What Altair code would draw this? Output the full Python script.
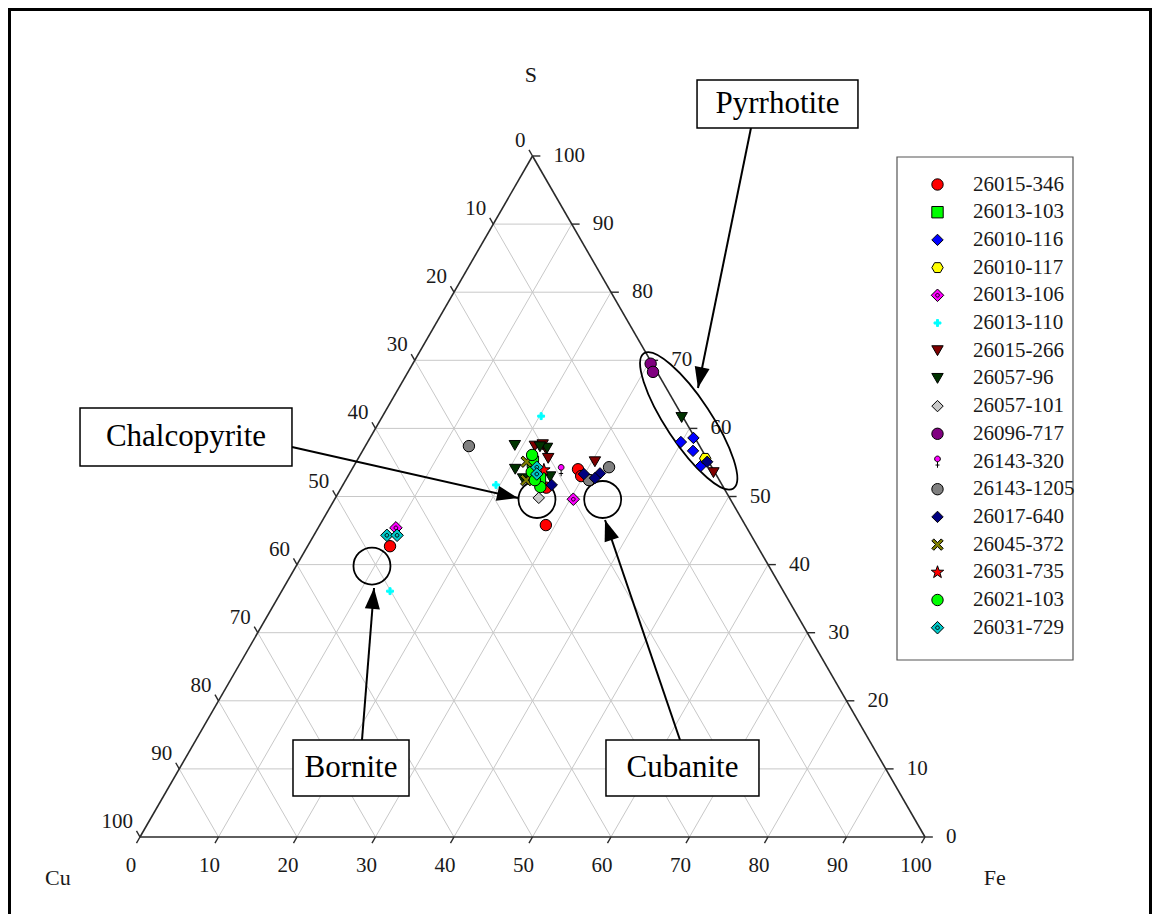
import math
import altair as alt
import pandas as pd

SERIF = "Liberation Serif"

# ---------------- axis ticks ----------------
TICKS = [0, 10, 20, 30, 40, 50, 60, 70, 80, 90, 100]

# ---------------- samples (legend order) ----------------
SAMPLES = ["26015-346", "26013-103", "26010-116", "26010-117", "26013-106", "26013-110",
           "26015-266", "26057-96", "26057-101", "26096-717", "26143-320", "26143-1205",
           "26017-640", "26045-372", "26031-735", "26021-103", "26031-729"]

# compositions: (Cu %, Fe %, S %)
P_26015_346 = [(17.2, 28.8, 54.0), (17.3, 29.7, 53.0), (16.5, 31.1, 52.4), (25.4, 28.8, 45.8),
               (46.8, 10.5, 42.7), (22.6, 26.1, 51.3)]
P_26013_103 = [(22.4, 22.5, 55.1), (22.7, 24.6, 52.7)]
P_26010_116 = [(2.1, 39.9, 58.0), (0.2, 41.2, 58.6), (1.2, 42.1, 56.7), (1.3, 44.2, 54.5)]
P_26010_117 = [(0.2, 44.2, 55.6), (23.6, 23.4, 53.0)]
P_26013_106 = [(20.0, 30.4, 49.6), (44.7, 9.9, 45.4)]
P_26013_110 = [(18.0, 20.2, 61.8), (28.8, 19.5, 51.7), (50.1, 13.8, 36.1)]
P_26015_266 = [(0.2, 46.3, 53.5), (14.5, 30.4, 55.1), (21.0, 21.6, 57.4), (19.8, 23.2, 57.0),
               (19.9, 22.5, 57.6), (20.2, 24.2, 55.6)]
P_26057_96 = [(0.2, 38.2, 61.6), (25.2, 20.8, 54.0), (24.9, 22.5, 52.6), (19.6, 23.3, 57.1),
              (21.3, 25.8, 52.9), (20.4, 22.3, 57.3), (23.5, 19.0, 57.5)]
P_26057_101 = [(24.3, 25.9, 49.8)]
P_26096_717 = [(0.2, 30.3, 69.5), (0.5, 31.2, 68.3)]
P_26143_320 = [(19.4, 26.7, 53.9)]
P_26143_1205 = [(29.4, 13.2, 57.4), (13.1, 32.6, 54.3), (16.6, 31.0, 52.4)]
P_26017_640 = [(0.2, 44.7, 55.1), (16.8, 29.9, 53.3), (14.7, 31.9, 53.4), (15.7, 31.6, 52.7),
               (21.7, 26.6, 51.7)]
P_26045_372 = [(23.2, 21.7, 55.1), (24.6, 23.0, 52.4)]
P_26031_735 = [(21.6, 24.5, 53.9)]
P_26021_103 = [(22.0, 21.9, 56.1), (23.3, 25.3, 51.4), (23.3, 23.1, 53.6), (23.5, 24.1, 52.4)]
P_26031_729 = [(22.3, 23.4, 54.3), (22.8, 23.9, 53.3), (46.4, 9.3, 44.3), (45.1, 10.6, 44.3)]

SAMPLE_POINTS = [P_26015_346, P_26013_103, P_26010_116, P_26010_117, P_26013_106, P_26013_110,
                 P_26015_266, P_26057_96, P_26057_101, P_26096_717, P_26143_320, P_26143_1205,
                 P_26017_640, P_26045_372, P_26031_735, P_26021_103, P_26031_729]

FILLS = ["#ff0000", "#00ff00", "#0000ff", "#ffff00", "#ff00ff", "#00ffff",
         "#800000", "#003300", "#c8c8c8", "#800080", "#ff00ff", "#808080",
         "#000080", "#808000", "#ff0000", "#00ff00", "#00c8c8"]
STROKES = ["#000000"] * 5 + ["#00ffff"] + ["#000000"] * 11

HEX = "M -1 0 L -0.5 -0.866 L 0.5 -0.866 L 1 0 L 0.5 0.866 L -0.5 0.866 Z"
RING_DIAMOND = ("M -1.1 0 L 0 -1.1 L 1.1 0 L 0 1.1 Z "
                "M 0.32 0 A 0.32 0.32 0 1 1 -0.32 0 A 0.32 0.32 0 1 1 0.32 0 Z")
PLUS = ("M -0.18 -0.6 L 0.18 -0.6 L 0.18 -0.18 L 0.6 -0.18 L 0.6 0.18 L 0.18 0.18 "
        "L 0.18 0.6 L -0.18 0.6 L -0.18 0.18 L -0.6 0.18 L -0.6 -0.18 L -0.18 -0.18 Z")
VENUS = ("M 0.5 -0.45 A 0.5 0.5 0 1 1 -0.5 -0.45 A 0.5 0.5 0 1 1 0.5 -0.45 Z "
         "M 0 0.05 L 0 1.1 M -0.35 0.62 L 0.35 0.62")
XSHAPE = ("M -1 -0.65 L -0.65 -1 L 0 -0.35 L 0.65 -1 L 1 -0.65 L 0.35 0 L 1 0.65 "
          "L 0.65 1 L 0 0.35 L -0.65 1 L -1 0.65 L -0.35 0 Z")
STAR = ("M 0 -1.15 L 0.27 -0.37 L 1.09 -0.36 L 0.44 0.14 L 0.68 0.93 L 0 0.46 "
        "L -0.68 0.93 L -0.44 0.14 L -1.09 -0.36 L -0.27 -0.37 Z")
SHAPES = ["circle", "square", "diamond", HEX, RING_DIAMOND, PLUS,
          "triangle-down", "triangle-down", "diamond", "circle", VENUS, "circle",
          "diamond", XSHAPE, STAR, "circle", RING_DIAMOND]

# ---------------- annotations (plot coordinates: X along Cu->Fe, Y = S %) ----------------
BOX_TEXT = ["Pyrrhotite", "Chalcopyrite", "Bornite", "Cubanite"]
BOX_X1 = [70.96, -7.64, 19.49, 59.36]
BOX_X2 = [91.46, 19.36, 34.27, 78.85]
BOX_Y1 = [111.16, 63.0, 14.24, 14.24]
BOX_Y2 = [104.11, 54.48, 6.02, 6.02]
ARROW_X1 = [77.83, 19.36, 28.28, 68.79]
ARROW_Y1 = [104.11, 57.27, 14.24, 14.24]
ARROW_X2 = [71.08, 48.15, 29.81, 59.24]
ARROW_Y2 = [65.93, 49.78, 36.56, 46.55]
CIRCLE_X = [50.57, 58.94, 29.55]
CIRCLE_Y = [49.56, 49.56, 39.79]
ELLIPSE_X = [69.9]
ELLIPSE_Y = [61.1]

TITLE_TEXT = ["S", "Cu", "Fe"]
TITLE_X = [49.8, -10.45, 108.9]
TITLE_Y = [111.9, -6.02, -6.02]

# ---------------- layout / scales ----------------
W, H = 1144, 906
XD = [-16.815, 128.917]
YD = [-11.307, 121.733]
KX = W / (XD[1] - XD[0])
KY = H / (YD[1] - YD[0])
xs = alt.Scale(domain=XD, nice=False, zero=False)
ys = alt.Scale(domain=YD, nice=False, zero=False)


def XE(f="X"):
    return alt.X(f + ":Q", scale=xs, axis=None)


def YE(f="Y"):
    return alt.Y(f + ":Q", scale=ys, axis=None)


# ---------------- data frames ----------------
rows = []
for name, pts in zip(SAMPLES, SAMPLE_POINTS):
    for cu, fe, s in pts:
        rows.append({"sample": name, "Cu": cu, "Fe": fe, "S": s, "X": fe + s / 2.0, "Y": s})
df_pts = pd.DataFrame(rows)

grid = []
for t in TICKS[1:-1]:
    grid.append({"X": t / 2.0, "Y": t, "X2": 100 - t / 2.0, "Y2": t})
    grid.append({"X": t, "Y": 0, "X2": t + (100 - t) / 2.0, "Y2": 100 - t})
    grid.append({"X": 100 - t, "Y": 0, "X2": (100 - t) / 2.0, "Y2": 100 - t})
df_grid = pd.DataFrame(grid)

df_edges = pd.DataFrame([
    {"X": 0, "Y": 0, "X2": 100, "Y2": 0},
    {"X": 0, "Y": 0, "X2": 50, "Y2": 100},
    {"X": 100, "Y": 0, "X2": 50, "Y2": 100},
])

tk = []
for t in TICKS:
    tk.append({"X": t, "Y": 0, "X2": t - 0.45, "Y2": -0.9})
    tk.append({"X": 100 - t / 2.0, "Y": t, "X2": 100 - t / 2.0 + 1.0, "Y2": t})
    tk.append({"X": (100 - t) / 2.0, "Y": 100 - t, "X2": (100 - t) / 2.0 - 0.45, "Y2": 100 - t + 0.9})
df_ticks = pd.DataFrame(tk)

df_lab_bottom = pd.DataFrame({"X": TICKS, "Y": [0] * len(TICKS), "t": [str(t) for t in TICKS]})
df_lab_left = pd.DataFrame({"X": [(100 - t) / 2.0 for t in TICKS], "Y": [100 - t for t in TICKS],
                            "t": [str(t) for t in TICKS]})
df_lab_right = pd.DataFrame({"X": [100 - t / 2.0 for t in TICKS], "Y": TICKS,
                             "t": [str(t) for t in TICKS]})
df_titles = pd.DataFrame({"X": TITLE_X, "Y": TITLE_Y, "t": TITLE_TEXT})

df_boxes = pd.DataFrame({"X": BOX_X1, "X2": BOX_X2, "Y": BOX_Y1, "Y2": BOX_Y2, "t": BOX_TEXT,
                         "XC": [(a + b) / 2 for a, b in zip(BOX_X1, BOX_X2)],
                         "YC": [(a + b) / 2 for a, b in zip(BOX_Y1, BOX_Y2)]})
angles = []
for x1, y1, x2, y2 in zip(ARROW_X1, ARROW_Y1, ARROW_X2, ARROW_Y2):
    dx = (x2 - x1) * KX
    dy = -(y2 - y1) * KY
    angles.append(math.degrees(math.atan2(dx, -dy)) % 360)
df_arrows = pd.DataFrame({"X": ARROW_X1, "Y": ARROW_Y1, "X2": ARROW_X2, "Y2": ARROW_Y2, "ang": angles})
df_circles = pd.DataFrame({"X": CIRCLE_X, "Y": CIRCLE_Y})
df_ellipse = pd.DataFrame({"X": ELLIPSE_X, "Y": ELLIPSE_Y})

# ---------------- layers ----------------
frame_data = alt.Data(values=[{}])
frame_l = alt.Chart(frame_data).mark_rule(color="black", strokeWidth=3).encode(
    x=alt.value(1.5), y=alt.value(0), y2=alt.value(H))
frame_t = alt.Chart(frame_data).mark_rule(color="black", strokeWidth=3).encode(
    x=alt.value(0), x2=alt.value(W), y=alt.value(1.5))
frame_r = alt.Chart(frame_data).mark_rule(color="black", strokeWidth=3).encode(
    x=alt.value(W - 1.5), y=alt.value(0), y2=alt.value(H))
legend_box = alt.Chart(frame_data).mark_rect(fill="white", stroke="#555555", strokeWidth=1.2).encode(
    x=alt.value(889), x2=alt.value(1065), y=alt.value(149), y2=alt.value(652))

grid_l = alt.Chart(df_grid).mark_rule(color="#c8c8c8", strokeWidth=1).encode(
    x=XE(), y=YE(), x2="X2:Q", y2="Y2:Q")
edge_l = alt.Chart(df_edges).mark_rule(color="#2a2a2a", strokeWidth=1.6).encode(
    x=XE(), y=YE(), x2="X2:Q", y2="Y2:Q")
tick_l = alt.Chart(df_ticks).mark_rule(color="#2a2a2a", strokeWidth=1.4).encode(
    x=XE(), y=YE(), x2="X2:Q", y2="Y2:Q")

txt = dict(font=SERIF, fontSize=21, color="#1a1a1a", baseline="middle")
lab_b = alt.Chart(df_lab_bottom).mark_text(align="center", dx=-9, dy=29, **txt).encode(
    x=XE(), y=YE(), text="t:N")
lab_l = alt.Chart(df_lab_left).mark_text(align="right", dx=-7, dy=-15, **txt).encode(
    x=XE(), y=YE(), text="t:N")
lab_r = alt.Chart(df_lab_right).mark_text(align="left", dx=21, dy=0, **txt).encode(
    x=XE(), y=YE(), text="t:N")
titles = alt.Chart(df_titles).mark_text(align="center", baseline="middle", font=SERIF,
                                        fontSize=22, color="#1a1a1a").encode(
    x=XE(), y=YE(), text="t:N")

circ = alt.Chart(df_circles).mark_point(shape="circle", size=1369, filled=False, color="black",
                                        strokeWidth=1.8, opacity=1).encode(x=XE(), y=YE())
ELLIPSE = "M -1 0 A 1 0.28 0 1 0 1 0 A 1 0.28 0 1 0 -1 0 Z"
ell = alt.Chart(df_ellipse).mark_point(shape=ELLIPSE, size=26244, angle=56.5, filled=False,
                                       color="black", strokeWidth=1.8, opacity=1).encode(x=XE(), y=YE())

leg = alt.Legend(title=None, orient="none", legendX=889, legendY=148, padding=18,
                 symbolOffset=12, labelOffset=25,
                 rowPadding=5.7, labelFontSize=21, labelFont=SERIF, labelColor="#1a1a1a",
                 symbolSize=130, symbolStrokeWidth=1, symbolOpacity=1)
points = alt.Chart(df_pts).mark_point(filled=True, opacity=1, size=130, strokeWidth=1).encode(
    x=XE(), y=YE(),
    fill=alt.Fill("sample:N", scale=alt.Scale(domain=SAMPLES, range=FILLS), legend=leg),
    stroke=alt.Stroke("sample:N", scale=alt.Scale(domain=SAMPLES, range=STROKES), legend=leg),
    shape=alt.Shape("sample:N", scale=alt.Scale(domain=SAMPLES, range=SHAPES), legend=leg),
)

arrow_lines = alt.Chart(df_arrows).mark_rule(color="black", strokeWidth=2).encode(
    x=XE(), y=YE(), x2="X2:Q", y2="Y2:Q")
ARROW = "M 0 0 L -0.36 1 L 0.36 1 Z"
arrow_heads = alt.Chart(df_arrows).mark_point(shape=ARROW, size=1764, filled=True, color="black",
                                              opacity=1).encode(
    x=XE("X2"), y=YE("Y2"), angle=alt.Angle("ang:Q", scale=None))

boxes = alt.Chart(df_boxes).mark_rect(fill="white", stroke="black", strokeWidth=1.5).encode(
    x=XE(), y=YE(), x2="X2:Q", y2="Y2:Q")
box_txt = alt.Chart(df_boxes).mark_text(align="center", baseline="middle", font=SERIF,
                                        fontSize=31, color="black").encode(
    x=XE("XC"), y=YE("YC"), text="t:N")

chart = alt.layer(
    frame_l, frame_t, frame_r, legend_box, grid_l, edge_l, tick_l, lab_b, lab_l, lab_r, titles,
    circ, ell, points, arrow_lines, arrow_heads, boxes, box_txt
).properties(
    width=W, height=H, padding=0, autosize=alt.AutoSizeParams(type="none"), background="white"
).configure_view(stroke=None)

chart.save("out.html", embed_options={"renderer": "svg", "actions": False})
